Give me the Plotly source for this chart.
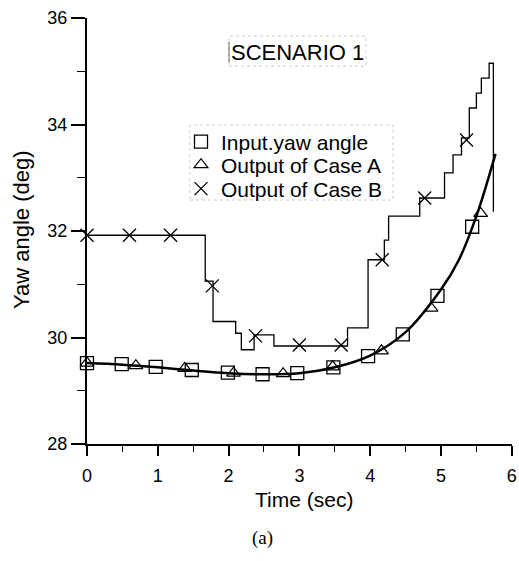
import plotly.graph_objects as go

# ---- data ----
input_t = [0, 0.49, 0.97, 1.48, 1.99, 2.48, 2.97, 3.48, 3.97, 4.46, 4.95, 5.44]
input_v = [29.52, 29.50, 29.45, 29.39, 29.34, 29.31, 29.33, 29.44, 29.65, 30.06, 30.78, 32.08]

caseA_t = [0, 0.69, 1.38, 2.07, 2.77, 3.47, 4.16, 4.86, 5.56]
caseA_v = [29.52, 29.47, 29.42, 29.33, 29.32, 29.45, 29.75, 30.55, 32.33]

curve_t = [0, 0.5, 1.0, 1.5, 2.0, 2.5, 3.0, 3.5, 4.0, 4.5, 5.0, 5.25, 5.5, 5.77]
curve_v = [29.52, 29.49, 29.44, 29.38, 29.33, 29.31, 29.33, 29.44, 29.66, 30.10, 30.90, 31.45, 32.28, 33.45]

caseB_t = [0, 0.60, 1.18, 1.77, 2.38, 3.00, 3.59, 4.17, 4.77, 5.36]
caseB_v = [31.92, 31.92, 31.92, 30.97, 30.03, 29.86, 29.86, 31.46, 32.62, 33.71]

stepB_t = [0, 1.67, 1.78, 2.10, 2.18, 2.36, 2.64, 3.68, 3.97, 4.20, 4.26, 4.70,
           5.05, 5.17, 5.29, 5.40, 5.50, 5.57, 5.68, 5.74]
stepB_v = [31.92, 31.06, 30.30, 30.08, 29.77, 30.05, 29.84, 30.18, 31.46, 31.83, 32.28, 32.62,
           33.09, 33.43, 33.75, 34.31, 34.59, 34.87, 35.15, 32.36]

x_ticks = [0, 1, 2, 3, 4, 5, 6]
y_ticks = [28, 30, 32, 34, 36]

FONT = "Liberation Sans, Arial, sans-serif"

L, T, PW, PH = 87, 18, 425, 426


def px(xp):
    return (xp - L) / PW


def py(yp):
    return (T + PH - yp) / PH


fig = go.Figure()

fig.add_trace(go.Scatter(x=curve_t, y=curve_v, mode="lines", line=dict(color="black", width=2.5, shape="spline"),
                         showlegend=False, hoverinfo="skip"))
fig.add_trace(go.Scatter(x=stepB_t, y=stepB_v, mode="lines", line=dict(color="black", width=1.3, shape="hv"),
                         showlegend=False, hoverinfo="skip"))

fig.add_trace(go.Scatter(x=input_t, y=input_v, mode="markers", name="Input.yaw angle", legend="legend",
                         marker=dict(symbol="square-open", size=13, color="black", line=dict(width=1.3)),
                         cliponaxis=False))
fig.add_trace(go.Scatter(x=caseA_t, y=caseA_v, mode="markers", name="Output of Case A", legend="legend2",
                         marker=dict(symbol="triangle-up-open", size=12, color="black", line=dict(width=1.2)),
                         cliponaxis=False))
fig.add_trace(go.Scatter(x=caseB_t, y=caseB_v, mode="markers", name="Output of Case B", legend="legend3",
                         marker=dict(symbol="x-thin-open", size=13, color="black", line=dict(width=1.3)),
                         cliponaxis=False))

leg_common = dict(xanchor="left", yanchor="middle", bgcolor="rgba(0,0,0,0)",
                  font=dict(family=FONT, size=21, color="black"), borderwidth=0, itemwidth=30)

fig.update_layout(
    width=519, height=561,
    margin=dict(l=L, r=519 - L - PW, t=T, b=561 - T - PH),
    paper_bgcolor="white", plot_bgcolor="white",
    font=dict(family=FONT, size=18, color="black"),
    showlegend=True,
    legend=dict(x=px(181), y=py(142), **leg_common),
    legend2=dict(x=px(181), y=py(165), **leg_common),
    legend3=dict(x=px(181), y=py(189), **leg_common),
    xaxis=dict(range=[0, 6.003], tickvals=x_ticks, showline=True, linewidth=2, linecolor="black",
               ticks="outside", ticklen=10, tickwidth=1.5, tickcolor="black", ticklabelstandoff=4,
               ticklabeloverflow="allow",
               minor=dict(dtick=0.5, ticks="outside", ticklen=6, tickwidth=1.2, tickcolor="black"),
               showgrid=False, zeroline=False, tickfont=dict(size=18), automargin=False),
    yaxis=dict(range=[28, 36], tickvals=y_ticks, showline=True, linewidth=2, linecolor="black",
               ticks="outside", ticklen=14, tickwidth=1.5, tickcolor="black",
               minor=dict(dtick=1, ticks="outside", ticklen=8, tickwidth=1.2, tickcolor="black"),
               showgrid=False, zeroline=False, tickfont=dict(size=18), automargin=False),
    annotations=[
        dict(text="Yaw angle (deg)", xref="paper", yref="paper", x=px(22), y=py(230), textangle=-90,
             showarrow=False, xanchor="center", yanchor="middle", font=dict(size=22)),
        dict(text="Time (sec)", xref="paper", yref="paper", x=px(304), y=py(499),
             showarrow=False, xanchor="center", yanchor="middle", font=dict(size=21)),
        dict(text="SCENARIO 1", xref="paper", yref="paper", x=px(297), y=py(52),
             showarrow=False, xanchor="center", yanchor="middle", font=dict(size=22)),
        dict(text="(a)", xref="paper", yref="paper", x=px(262), y=py(538),
             showarrow=False, xanchor="center", yanchor="middle",
             font=dict(family="Liberation Serif, Times New Roman, serif", size=19)),
    ],
    shapes=[
        dict(type="line", xref="paper", yref="paper", x0=px(229), x1=px(229),
             y0=py(62), y1=py(42), line=dict(color="#444", width=1)),
        dict(type="rect", xref="paper", yref="paper", x0=px(229), x1=px(366),
             y0=py(66), y1=py(36), line=dict(color="#ccc", width=1, dash="dot")),
        dict(type="rect", xref="paper", yref="paper", x0=px(190), x1=px(393),
             y0=py(200), y1=py(125), line=dict(color="#ccc", width=1, dash="dot")),
    ],
)

fig.write_html("out.html")
